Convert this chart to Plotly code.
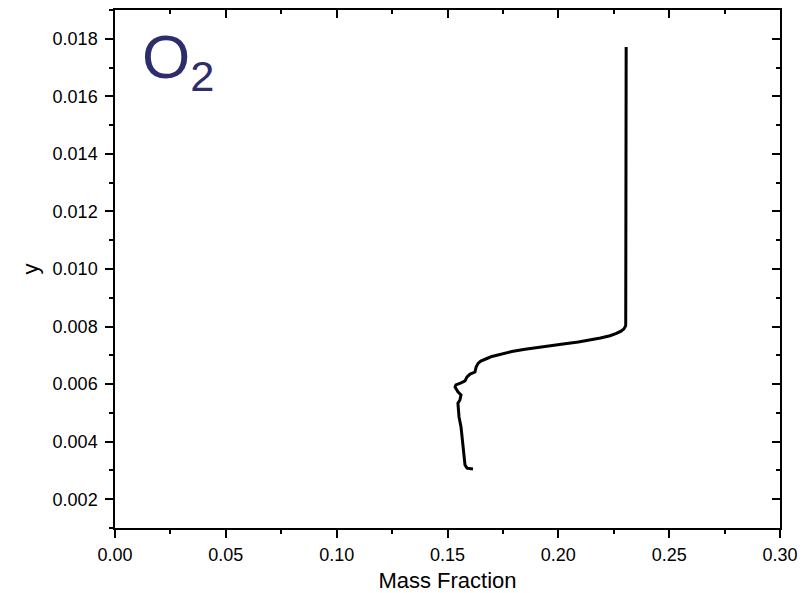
import plotly.graph_objects as go

# Data (mass fraction of O2 vs y)
mass_fraction = [0.2306, 0.2306, 0.2306, 0.2306, 0.2306, 0.2304, 0.2296, 0.2283, 0.2262, 0.2233,
                 0.2190, 0.2143, 0.2090, 0.2030, 0.1970, 0.1910, 0.1850, 0.1790, 0.1737,
                 0.1700, 0.1678, 0.1650, 0.1638, 0.1629, 0.1624, 0.1602, 0.1588,
                 0.1579, 0.1561, 0.1538, 0.1534, 0.1547, 0.1561, 0.1556, 0.1547, 0.1552,
                 0.1561, 0.1565, 0.1570, 0.1579, 0.1588, 0.1615]
y_pos = [0.01771, 0.0150, 0.0120, 0.0095, 0.00820, 0.00803, 0.00792, 0.00784, 0.00776, 0.00768,
         0.00760, 0.00753, 0.00746, 0.00740, 0.00734, 0.00728, 0.00721, 0.00713, 0.00704,
         0.00696, 0.00689, 0.00680, 0.00672, 0.00659, 0.00642, 0.00635, 0.00625,
         0.00611, 0.00604, 0.00597, 0.00590, 0.00573, 0.00562, 0.00545, 0.00534, 0.00486,
         0.00451, 0.00416, 0.00371, 0.00319, 0.00308, 0.00305]

x_range = [0.0, 0.30]
y_range = [0.001, 0.019]
x_tickvals = [0.00, 0.05, 0.10, 0.15, 0.20, 0.25, 0.30]
x_ticktext = ["0.00", "0.05", "0.10", "0.15", "0.20", "0.25", "0.30"]
y_tickvals = [0.002, 0.004, 0.006, 0.008, 0.010, 0.012, 0.014, 0.016, 0.018]
y_ticktext = ["0.002", "0.004", "0.006", "0.008", "0.010", "0.012", "0.014", "0.016", "0.018"]

FONT = "Liberation Sans, Arial, sans-serif"

fig = go.Figure()
fig.add_trace(go.Scatter(x=mass_fraction, y=y_pos, mode="lines",
                         line=dict(color="black", width=3),
                         showlegend=False, hoverinfo="skip"))
# invisible trace to anchor the mirrored (top/right) axes
fig.add_trace(go.Scatter(x=[None], y=[None], xaxis="x2", yaxis="y2", showlegend=False))

common = dict(showgrid=False, zeroline=False, showline=True, linecolor="black", linewidth=1.5,
              tickcolor="black", tickwidth=1.5, ticklen=8, automargin=False)

fig.update_layout(
    width=802, height=593,
    margin=dict(l=115, r=22, t=10, b=65),
    paper_bgcolor="white", plot_bgcolor="white",
    font=dict(family=FONT, size=18, color="black"),
    xaxis=dict(range=x_range, tickvals=x_tickvals, ticktext=x_ticktext, ticks="outside",
               minor=dict(ticks="outside", ticklen=4, dtick=0.025, tick0=0, tickcolor="black", tickwidth=1.5),
               title=dict(text="Mass Fraction", font=dict(size=22), standoff=8),
               tickfont=dict(size=18), ticklabelstandoff=2, **common),
    yaxis=dict(range=y_range, tickvals=y_tickvals, ticktext=y_ticktext, ticks="outside",
               minor=dict(ticks="outside", ticklen=4, dtick=0.001, tick0=0, tickcolor="black", tickwidth=1.5),
               title=dict(text="y", font=dict(size=22), standoff=8),
               tickfont=dict(size=18), ticklabelstandoff=4, **common),
    xaxis2=dict(range=x_range, overlaying="x", side="top", anchor="y2", tickvals=x_tickvals,
                showticklabels=False, ticks="inside",
                minor=dict(ticks="inside", ticklen=4, dtick=0.025, tick0=0, tickcolor="black", tickwidth=1.5),
                **common),
    yaxis2=dict(range=y_range, overlaying="y", side="right", anchor="x2", tickvals=y_tickvals,
                showticklabels=False, ticks="inside",
                minor=dict(ticks="inside", ticklen=4, dtick=0.001, tick0=0, tickcolor="black", tickwidth=1.5),
                **common),
    annotations=[dict(text="O<sub>2</sub>", xref="paper", yref="paper", x=0.037, y=0.98,
                      xanchor="left", yanchor="top", showarrow=False,
                      font=dict(family=FONT, size=62, color="#2D2D6B"))],
)

fig.write_html("out.html")
